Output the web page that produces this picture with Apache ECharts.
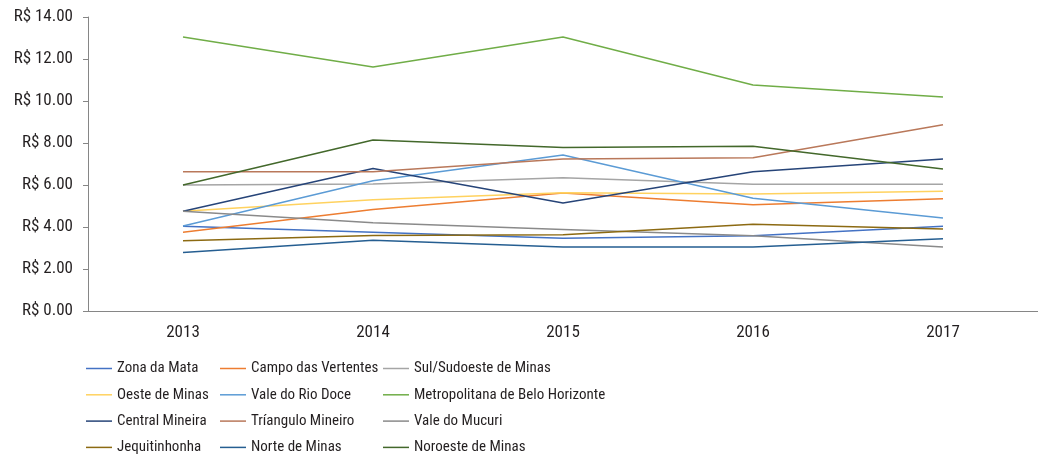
<!DOCTYPE html>
<html lang="pt">
<head>
    <meta charset="UTF-8">
    <title>Preço médio por região</title>
    <script src="https://cdn.jsdelivr.net/npm/echarts@6/dist/echarts.min.js"></script>
    <style>
        html, body { margin: 0; padding: 0; background: #fff; }
        #main { width: 1038px; height: 460px; }
    </style>
</head>
<body>
<div id="main"></div>
<script type="text/javascript">
    const years = ['2013', '2014', '2015', '2016', '2017']

    const zonaDaMata = [4.03, 3.75, 3.46, 3.58, 4.03]
    const campoDasVertentes = [3.75, 4.83, 5.62, 5.06, 5.35]
    const sulSudoeste = [6.00, 6.05, 6.35, 6.03, 6.03]
    const oesteDeMinas = [4.75, 5.30, 5.63, 5.57, 5.70]
    const valeDoRioDoce = [4.05, 6.20, 7.43, 5.37, 4.43]
    const metropolitana = [13.05, 11.62, 13.05, 10.76, 10.19]
    const centralMineira = [4.75, 6.79, 5.14, 6.63, 7.24]
    const trianguloMineiro = [6.63, 6.63, 7.24, 7.30, 8.87]
    const valeDoMucuri = [4.75, 4.20, 3.88, 3.58, 3.05]
    const jequitinhonha = [3.35, 3.60, 3.63, 4.13, 3.90]
    const norteDeMinas = [2.78, 3.37, 3.05, 3.05, 3.44]
    const noroesteDeMinas = [6.00, 8.14, 7.78, 7.84, 6.76]

    const series = [
        { name: 'Zona da Mata', data: zonaDaMata, color: '#4472C4' },
        { name: 'Campo das Vertentes', data: campoDasVertentes, color: '#ED7D31' },
        { name: 'Sul/Sudoeste de Minas', data: sulSudoeste, color: '#A5A5A5' },
        { name: 'Oeste de Minas', data: oesteDeMinas, color: '#FFD25F' },
        { name: 'Vale do Rio Doce', data: valeDoRioDoce, color: '#5B9BD5' },
        { name: 'Metropolitana de Belo Horizonte', data: metropolitana, color: '#70AD47' },
        { name: 'Central Mineira', data: centralMineira, color: '#264478' },
        { name: 'Tríangulo Mineiro', data: trianguloMineiro, color: '#B9785A' },
        { name: 'Vale do Mucuri', data: valeDoMucuri, color: '#8A8A8A' },
        { name: 'Jequitinhonha', data: jequitinhonha, color: '#8C6A12' },
        { name: 'Norte de Minas', data: norteDeMinas, color: '#255E91' },
        { name: 'Noroeste de Minas', data: noroesteDeMinas, color: '#43682B' }
    ]

    const font = '"Roboto Condensed", Roboto, sans-serif'
    const textColor = '#231f20'
    const axisColor = '#868686'

    // legend in 3 columns, items read row by row
    const columns = [86, 220, 383].map((left, i) => ({
        orient: 'vertical',
        left: left,
        top: 361,
        padding: 0,
        itemWidth: 26,
        itemHeight: 14,
        itemGap: 11.3,
        icon: 'path://M0 0H26V1.5H0Z',
        selectedMode: false,
        textStyle: { fontFamily: font, fontSize: 15, color: textColor, lineHeight: 14 },
        data: series.filter((s, j) => j % 3 === i).map(s => s.name)
    }))

    let chart = echarts.init(document.getElementById('main'))

    chart.setOption({
        animation: false,
        legend: columns,
        grid: { left: 88, right: -7, top: 17, bottom: 149, containLabel: false },
        xAxis: {
            type: 'category',
            data: years,
            axisLine: { lineStyle: { color: axisColor, width: 1 } },
            axisTick: { length: 5, lineStyle: { color: axisColor } },
            axisLabel: { fontFamily: font, fontSize: 17, color: textColor, margin: 13 }
        },
        yAxis: {
            type: 'value',
            min: 0,
            max: 14,
            interval: 2,
            splitLine: { show: false },
            axisLine: { show: true, lineStyle: { color: axisColor, width: 1 } },
            axisTick: { show: true, length: 5, lineStyle: { color: axisColor } },
            axisLabel: {
                fontFamily: font, fontSize: 17, color: textColor, margin: 15,
                formatter: v => 'R$ ' + v.toFixed(2)
            }
        },
        series: series.map(s => ({
            name: s.name,
            type: 'line',
            data: s.data,
            symbol: 'none',
            color: s.color,
            lineStyle: { width: 1.5, color: s.color }
        }))
    })
</script>
</body>
</html>
